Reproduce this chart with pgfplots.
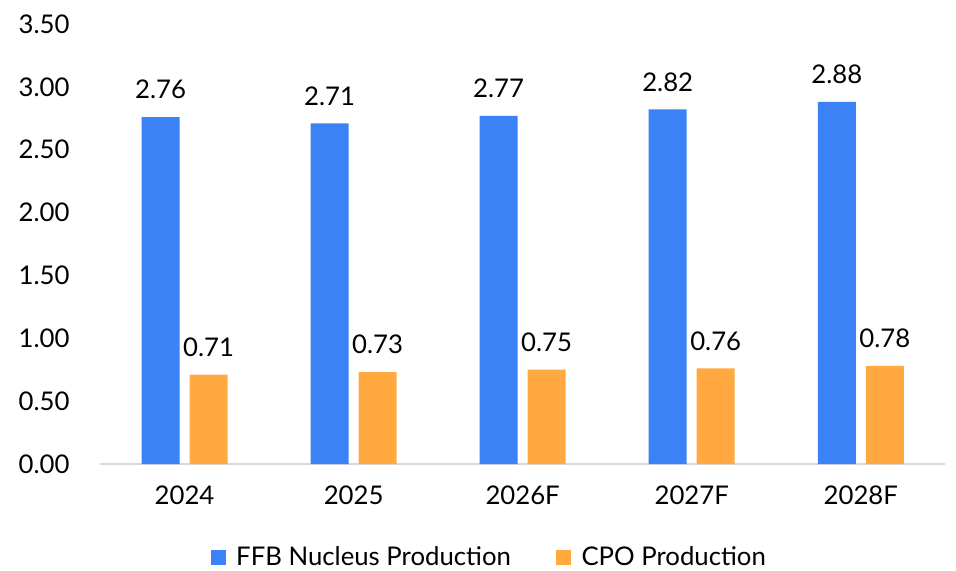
\documentclass[border=0pt]{standalone}
\usepackage{pgfplots}
\pgfplotsset{compat=1.18}
\usepackage{fontspec}
\setmainfont{Lato}
\definecolor{ffb}{HTML}{3A82F6}
\definecolor{cpo}{HTML}{FFA940}
\definecolor{axgray}{HTML}{D9D9D9}
\begin{document}
\begin{tikzpicture}[font=\fontsize{19.3pt}{23pt}\selectfont]
\begin{axis}[
  name=ax,
  scale only axis,
  width=634pt, height=330pt,
  xmin=-0.5, xmax=4.5,
  ymin=0, ymax=3.5,
  xtick={0,1,2,3,4},
  xticklabels={2024,2025,2026F,2027F,2028F},
  ytick={0,0.5,1,1.5,2,2.5,3,3.5},
  /pgf/number format/assume math mode=true,
  yticklabel style={xshift=-19.3pt, /pgf/number format/.cd,fixed,fixed zerofill,precision=2},
  xticklabel style={yshift=-13pt},
  axis x line*=bottom,
  axis y line*=left,
  x axis line style={draw=axgray, line width=1.2pt, -},
  y axis line style={draw=none},
  major tick length=0pt,
  tick style={draw=none},
  ybar,
  bar width=28.5pt,
  nodes near coords,
  every node near coord/.append style={yshift=10pt, text=black, /pgf/number format/.cd,fixed,fixed zerofill,precision=2,assume math mode=true},
  legend style={at={(0.461,-0.212)}, anchor=center, draw=none, legend columns=2,
    /tikz/every even column/.append style={column sep=32pt},
    /tikz/every odd column/.append style={column sep=6pt},
    inner sep=0pt, font=\fontsize{19.3pt}{23pt}\selectfont},
  legend image code/.code={\fill[#1, draw=none] (0pt,-5.5pt) rectangle (11pt,5.5pt);},
  clip=false,
]
\addplot[fill=ffb, draw=none, bar shift=-18pt] coordinates {(0,2.76) (1,2.71) (2,2.77) (3,2.82) (4,2.88)};
\addplot[fill=cpo, draw=none, bar shift=18pt] coordinates {(0,0.71) (1,0.73) (2,0.75) (3,0.76) (4,0.78)};
\legend{FFB Nucleus Production, CPO Production}
\end{axis}
\path ([xshift=-75pt,yshift=-79.5pt]ax.south west) rectangle ([xshift=642pt,yshift=348pt]ax.south west);
\end{tikzpicture}
\end{document}
